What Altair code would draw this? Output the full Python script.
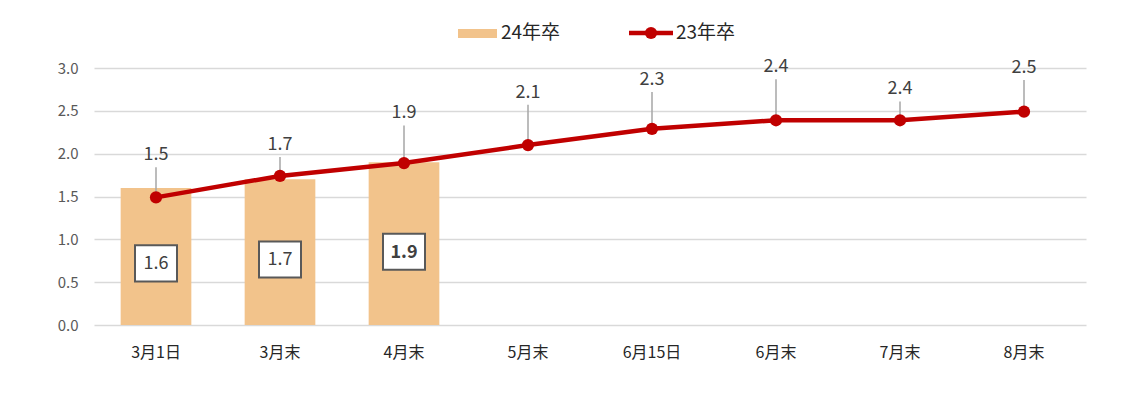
import altair as alt
import pandas as pd

categories = ["3月1日", "3月末", "4月末", "5月末", "6月15日", "6月末", "7月末", "8月末"]
bar_cats = ["3月1日", "3月末", "4月末"]
bars_24 = [1.6, 1.7, 1.9]
line_23 = [1.49, 1.74, 1.89, 2.10, 2.29, 2.39, 2.39, 2.49]
# how far above each point its label sits (in axis units) – style only
label_lift = [0.49, 0.36, 0.58, 0.61, 0.57, 0.62, 0.36, 0.51]
y_ticks = [0.0, 0.5, 1.0, 1.5, 2.0, 2.5, 3.0]

FONT = "Noto Sans CJK JP"
BAR_COLOR = "#F2C38B"
LINE_COLOR = "#C00000"
BOX_PATH = "M-1,-0.86L1,-0.86L1,0.86L-1,0.86Z"

bar_df = pd.DataFrame({"cat": bar_cats, "v": bars_24})
line_df = pd.DataFrame({"cat": categories, "v": line_23, "lift": label_lift})

x_enc = alt.X(
    "cat:N",
    sort=categories,
    scale=alt.Scale(domain=categories, paddingInner=0.43, paddingOuter=0.215),
    axis=alt.Axis(
        title=None, labelAngle=0, domain=False, ticks=False, labelPadding=19,
        labelFont=FONT, labelFontSize=16, labelColor="#262626",
    ),
)
y_scale = alt.Scale(domain=[0, 3], nice=False, zero=True)
y_enc = alt.Y(
    "v:Q",
    scale=y_scale,
    axis=alt.Axis(
        title=None, values=y_ticks, format=".1f", domain=False, ticks=False,
        labelPadding=16, labelFont=FONT, labelFontSize=15, labelColor="#595959",
        grid=True, gridColor="#D9D9D9", gridWidth=1.5,
    ),
)
xs = alt.X("cat:N", sort=categories)

bars = alt.Chart(bar_df).mark_bar(color=BAR_COLOR).encode(x=x_enc, y=y_enc)

box = alt.Chart(bar_df).transform_calculate(mid="datum.v * 0.45").mark_point(
    shape=BOX_PATH, size=1764, filled=True, fill="white", stroke="#595959",
    strokeWidth=2, opacity=1,
).encode(x=xs, y=alt.Y("mid:Q", scale=y_scale))

box_text_base = alt.Chart(bar_df).transform_calculate(mid="datum.v * 0.45")
box_text_n = box_text_base.transform_filter("datum.cat != '4月末'").mark_text(
    font=FONT, fontSize=18, color="#404040", baseline="middle", dy=1,
).encode(x=xs, y=alt.Y("mid:Q", scale=y_scale), text=alt.Text("v:Q", format=".1f"))
box_text_b = box_text_base.transform_filter("datum.cat == '4月末'").mark_text(
    font=FONT, fontSize=18, color="#404040", baseline="middle", dy=1, fontWeight="bold",
).encode(x=xs, y=alt.Y("mid:Q", scale=y_scale), text=alt.Text("v:Q", format=".1f"))

leaders = alt.Chart(line_df).transform_calculate(
    ly="datum.v + datum.lift - 0.14"
).mark_rule(color="#A6A6A6", strokeWidth=1.5).encode(
    x=xs, y=alt.Y("v:Q", scale=y_scale), y2="ly:Q",
)

line = alt.Chart(line_df).mark_line(color=LINE_COLOR, strokeWidth=4.5).encode(
    x=xs, y=alt.Y("v:Q", scale=y_scale)
)
points = alt.Chart(line_df).mark_circle(color=LINE_COLOR, size=150, opacity=1).encode(
    x=xs, y=alt.Y("v:Q", scale=y_scale)
)
labels = alt.Chart(line_df).transform_calculate(
    ly="datum.v + datum.lift"
).mark_text(font=FONT, fontSize=18, color="#404040", baseline="middle").encode(
    x=xs, y=alt.Y("ly:Q", scale=y_scale), text=alt.Text("v:Q", format=".1f"),
)

dummy = pd.DataFrame({"a": [0]})
leg_rect = alt.Chart(dummy).mark_rect(color=BAR_COLOR).encode(
    x=alt.value(364), x2=alt.value(403), y=alt.value(-39), y2=alt.value(-30)
)
leg_text1 = alt.Chart(dummy).mark_text(
    font=FONT, fontSize=19, color="#262626", align="left", baseline="middle"
).encode(x=alt.value(407), y=alt.value(-35), text=alt.value("24年卒"))
leg_line = alt.Chart(dummy).mark_rule(color=LINE_COLOR, strokeWidth=4.5).encode(
    x=alt.value(535), x2=alt.value(579), y=alt.value(-35)
)
leg_pt = alt.Chart(dummy).mark_circle(color=LINE_COLOR, size=150, opacity=1).encode(
    x=alt.value(557), y=alt.value(-35)
)
leg_text2 = alt.Chart(dummy).mark_text(
    font=FONT, fontSize=19, color="#262626", align="left", baseline="middle"
).encode(x=alt.value(582), y=alt.value(-35), text=alt.value("23年卒"))

chart = alt.layer(
    bars, box, box_text_n, box_text_b, leaders, line, points, labels,
    leg_rect, leg_text1, leg_line, leg_pt, leg_text2,
).properties(
    width=992, height=257,
    autosize=alt.AutoSizeParams(type="none"),
    padding={"left": 94, "top": 68, "right": 35, "bottom": 69},
    background="white",
).configure_view(stroke=None)

chart.save("out.html", embed_options={"renderer": "svg", "actions": False})
